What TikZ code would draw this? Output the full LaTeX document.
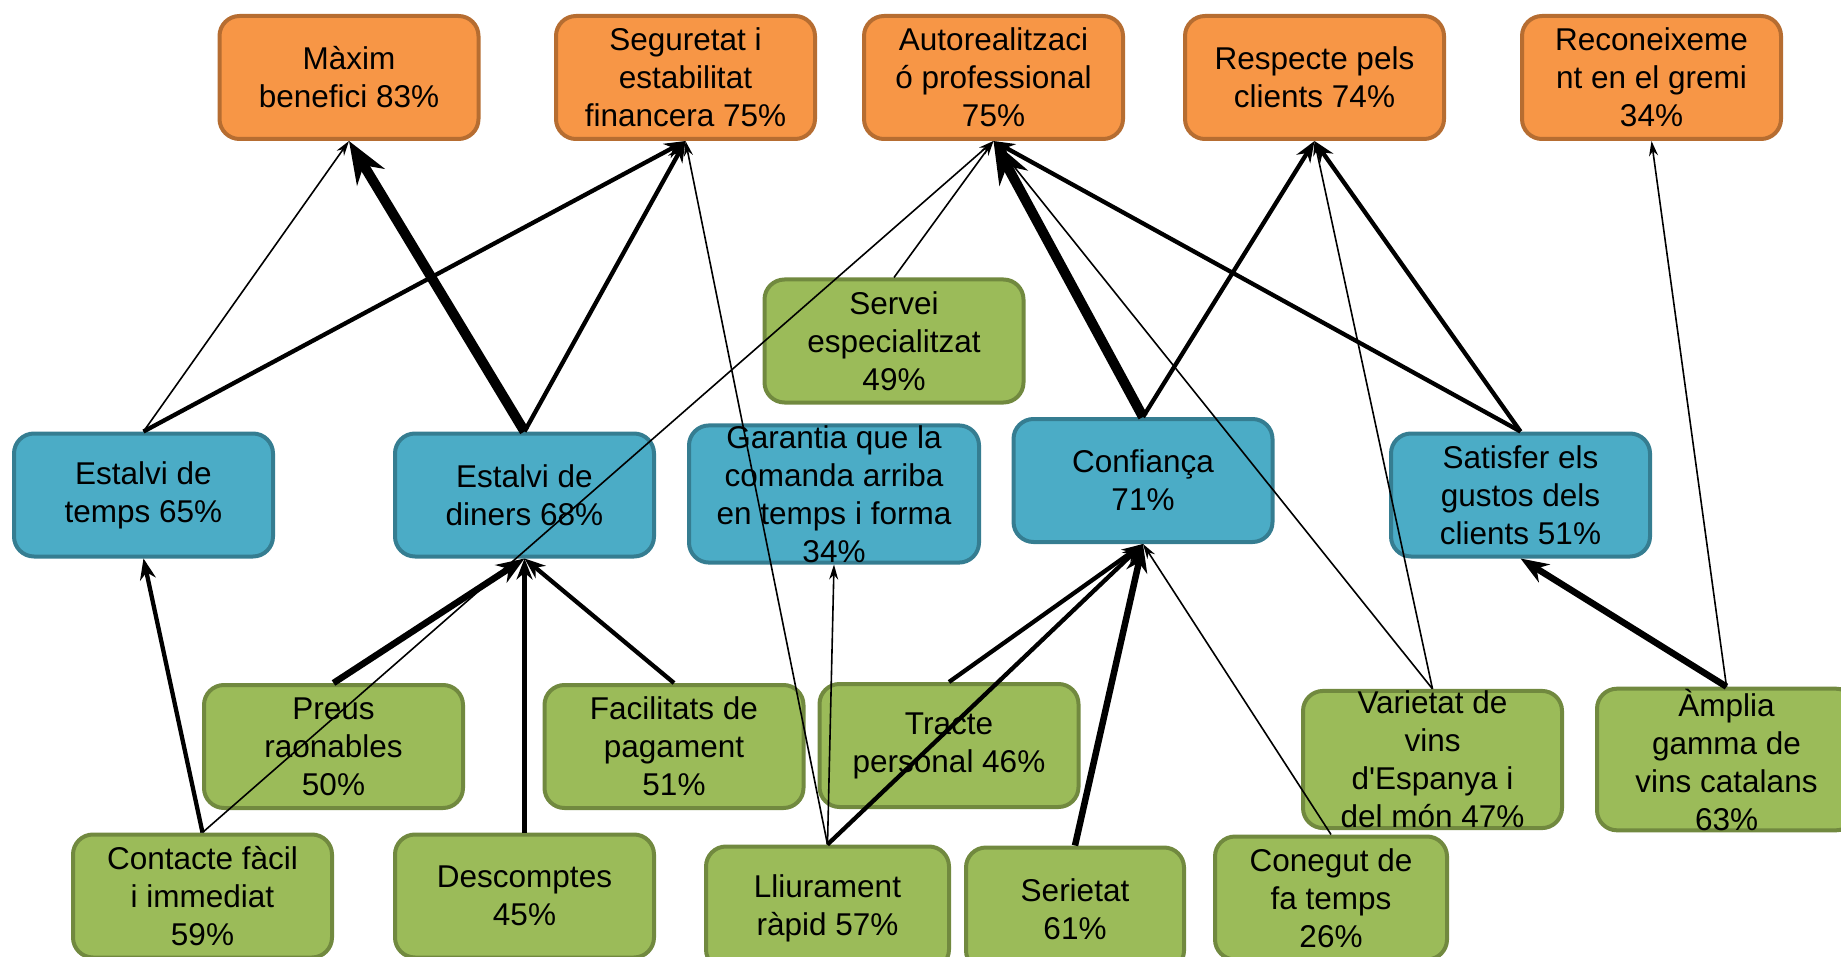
\documentclass[tikz,border=0pt]{standalone}
\usepackage{fontspec}
\setmainfont{Liberation Sans}
\usetikzlibrary{arrows.meta}
\definecolor{ofill}{HTML}{F79646}
\definecolor{odraw}{HTML}{B66D31}
\definecolor{bfill}{HTML}{4BACC6}
\definecolor{bdraw}{HTML}{357D91}
\definecolor{gfill}{HTML}{9BBB59}
\definecolor{gdraw}{HTML}{71893F}
\begin{document}
\begin{tikzpicture}[x=1pt,y=-1pt,
  box/.style={rounded corners=20pt, line width=4pt, inner sep=0pt, align=center,
    font=\fontsize{31.5}{38}\selectfont, minimum width=259pt, minimum height=123pt},
  obox/.style={box, draw=odraw, fill=ofill},
  bbox/.style={box, draw=bdraw, fill=bfill},
  gbox/.style={box, draw=gdraw, fill=gfill},
  ethin/.style={line width=1.6pt, -{Stealth[length=15pt,width=9pt]}},
  emed/.style={line width=4.3pt, -{Stealth[length=21pt,width=16pt]}},
  ethick/.style={line width=6.5pt, -{Stealth[length=28pt,width=21pt]}},
  evthick/.style={line width=10pt, -{Stealth[length=42pt,width=32pt]}}]
\useasboundingbox (0,0) rectangle (1841,957);
\clip (0,0) rectangle (1841,957);
% top row
\node[obox] (M) at (349,77.5) {Màxim\\benefici 83\%};
\node[obox] (S) at (685.5,77.5) {Seguretat i\\estabilitat\\financera 75\%};
\node[obox] (A) at (993.5,77.5) {Autorealitzaci\\ó professional\\75\%};
\node[obox] (R) at (1314.5,77.5) {Respecte pels\\clients 74\%};
\node[obox] (K) at (1651.5,77.5) {Reconeixeme\\nt en el gremi\\34\%};
% middle row
\node[bbox] (ET) at (143.5,495) {Estalvi de\\temps 65\%};
\node[bbox] (ED) at (524.5,495) {Estalvi de\\diners 68\%};
\node[bbox, minimum width=290pt] (G) at (834,494) {Garantia que la\\comanda arriba\\en temps i forma\\34\%};
\node[bbox] (C) at (1143,480.5) {Confiança\\71\%};
\node[bbox] (SG) at (1520.5,495) {Satisfer els\\gustos dels\\clients 51\%};
% green
\node[gbox] (SE) at (894,341) {Servei\\especialitzat\\49\%};
\node[gbox] (P) at (333.5,746.5) {Preus\\raonables\\50\%};
\node[gbox] (F) at (674,746.5) {Facilitats de\\pagament\\51\%};
\node[gbox] (T) at (949,745.5) {Tracte\\personal 46\%};
\node[gbox] (V) at (1432.5,759.5) {Varietat de\\vins\\d\textquotesingle Espanya i\\del món 47\%};
\node[gbox] (Am) at (1726.5,759.5) {Àmplia\\gamma de\\vins catalans\\63\%};
\node[gbox] (Co) at (202.5,896) {Contacte fàcil\\i immediat\\59\%};
\node[gbox] (D) at (524.5,896) {Descomptes\\45\%};
\node[gbox, minimum width=243pt] (L) at (827.5,908) {Lliurament\\ràpid 57\%};
\node[gbox, minimum width=218pt] (Se) at (1075,909) {Serietat\\61\%};
\node[gbox, minimum width=232pt] (Cg) at (1331,898) {Conegut de\\fa temps\\26\%};
% edges
\draw[ethin] (ET.north) -- (M.south);
\draw[evthick] (ED.north) -- (M.south);
\draw[emed] (ET.north) -- (S.south);
\draw[emed] (ED.north) -- (S.south);
\draw[ethin] (L.north) -- (S.south);
\draw[ethin] (SE.north) -- (A.south);
\draw[ethin] (Co.north) -- (A.south);
\draw[evthick] (C.north) -- (A.south);
\draw[ethin] (V.north) -- (A.south);
\draw[emed] (SG.north) -- (A.south);
\draw[emed] (C.north) -- (R.south);
\draw[emed] (SG.north) -- (R.south);
\draw[ethin] (V.north) -- (R.south);
\draw[ethin] (Am.north) -- (K.south);
\draw[emed] (Co.north) -- (ET.south);
\draw[ethick] (P.north) -- (ED.south);
\draw[emed] (D.north) -- (ED.south);
\draw[emed] (F.north) -- (ED.south);
\draw[ethin] (L.north) -- (G.south);
\draw[emed] (T.north) -- (C.south);
\draw[emed] (L.north) -- (C.south);
\draw[ethick] (Se.north) -- (C.south);
\draw[ethin] (Cg.north) -- (C.south);
\draw[ethick] (Am.north) -- (SG.south);
\end{tikzpicture}
\end{document}
